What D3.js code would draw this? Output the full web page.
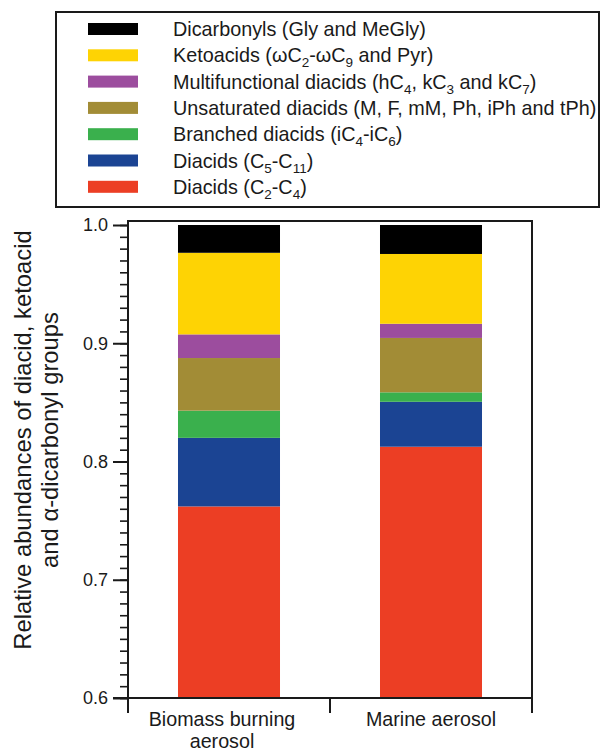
<!DOCTYPE html>
<html>
<head>
<meta charset="utf-8">
<script src="https://cdn.jsdelivr.net/npm/d3@7"></script>
<style>
  body { margin: 0; background: #fff; }
  svg { font-family: "Liberation Sans", Arial, sans-serif; }
</style>
</head>
<body>
<svg id="chart" width="601" height="752"></svg>
<script>
// sites on the x axis
var sites = ["Biomass burning aerosol", "Marine aerosol"];

// groups, bottom of the stack first
var groups = ["c2c4", "c5c11", "branched", "unsat", "multi", "keto", "dicarb"];
var groupColors = ["#ec3e24", "#1b4493", "#3ab04d", "#a28c36", "#9c4d9e", "#fed304", "#000000"];

// relative abundances (same order as groups)
var biomassValues = [0.762, 0.058, 0.023, 0.0445, 0.020, 0.069, 0.0235];
var marineValues = [0.8125, 0.038, 0.008, 0.046, 0.012, 0.059, 0.0245];

var yTicks = [0.6, 0.7, 0.8, 0.9, 1.0];

// legend rows, top row first; each row is a list of [text, is subscript]
var legendRows = [
    { key: "dicarb", parts: [["Dicarbonyls (Gly and MeGly)", 0]] },
    { key: "keto", parts: [["Ketoacids (\u03c9C", 0], ["2", 1], ["-\u03c9C", 0], ["9", 1], [" and Pyr)", 0]] },
    { key: "multi", parts: [["Multifunctional diacids (hC", 0], ["4", 1], [", kC", 0], ["3", 1], [" and kC", 0], ["7", 1], [")", 0]] },
    { key: "unsat", parts: [["Unsaturated diacids (M, F, mM, Ph, iPh and tPh)", 0]] },
    { key: "branched", parts: [["Branched diacids (iC", 0], ["4", 1], ["-iC", 0], ["6", 1], [")", 0]] },
    { key: "c5c11", parts: [["Diacids (C", 0], ["5", 1], ["-C", 0], ["11", 1], [")", 0]] },
    { key: "c2c4", parts: [["Diacids (C", 0], ["2", 1], ["-C", 0], ["4", 1], [")", 0]] }
];

var svg = d3.select("#chart");
var ink = "#1a1a1a";

var rows = sites.map(function (s, i) {
    var vals = i === 0 ? biomassValues : marineValues;
    var r = { site: s };
    groups.forEach(function (g, j) { r[g] = vals[j]; });
    return r;
});
var series = d3.stack().keys(groups)(rows);

var color = d3.scaleOrdinal().domain(groups).range(groupColors);

var x = d3.scaleBand()
    .domain(sites)
    .range([128, 532])
    .paddingInner(0.495)
    .paddingOuter(0.2475);

var y = d3.scaleLinear().domain([0.6, 1.0]).range([698, 225]);

var plotTop = y(1.0) - 4;
var plotBottom = y(0.6);

// bars
svg.append("g")
    .selectAll("g")
    .data(series)
    .enter()
    .append("g")
    .attr("fill", function (d) { return color(d.key); })
    .selectAll("rect")
    .data(function (d) { return d; })
    .enter()
    .append("rect")
    .attr("x", function (d) { return x(d.data.site); })
    .attr("width", x.bandwidth())
    .attr("y", function (d) { return y(Math.min(d[1], 1)); })
    .attr("height", function (d) { return y(Math.max(d[0], 0.6)) - y(Math.min(d[1], 1)); });

// minor y ticks every 0.01
svg.append("g")
    .attr("transform", "translate(128,0)")
    .call(d3.axisLeft(y).tickValues(d3.range(60, 101).map(function (v) { return v / 100; }))
        .tickSize(8).tickFormat(""))
    .call(function (g) {
        g.select(".domain").remove();
        g.selectAll("line").attr("stroke", ink).attr("stroke-width", 1.6);
    });

// major y ticks
svg.append("g")
    .attr("transform", "translate(128,0)")
    .call(d3.axisLeft(y).tickValues(yTicks).tickSize(15).tickPadding(5).tickFormat(d3.format(".1f")))
    .call(function (g) {
        g.select(".domain").remove();
        g.selectAll("line").attr("stroke", ink).attr("stroke-width", 2);
        g.selectAll("text")
            .attr("fill", ink)
            .style("font-size", "18px")
            .style("font-family", "'Liberation Sans', Arial, sans-serif");
    });

// frame: left axis and right side run below the x axis, top closes the box
var frame = svg.append("g").attr("stroke", ink).attr("stroke-width", 2).attr("fill", "none");
frame.append("line").attr("x1", 128).attr("x2", 128).attr("y1", plotTop).attr("y2", plotBottom + 15);
frame.append("line").attr("x1", 532).attr("x2", 532).attr("y1", plotTop).attr("y2", plotBottom + 15);
frame.append("line").attr("x1", 127).attr("x2", 533).attr("y1", plotTop).attr("y2", plotTop);
frame.append("line").attr("x1", 113).attr("x2", 533).attr("y1", plotBottom).attr("y2", plotBottom);

// x ticks at the band edges
var edges = d3.range(sites.length + 1).map(function (i) { return 128 + i * x.step(); });
frame.selectAll(".xt")
    .data(edges)
    .enter()
    .append("line")
    .attr("x1", function (d) { return d; })
    .attr("x2", function (d) { return d; })
    .attr("y1", plotBottom)
    .attr("y2", plotBottom + 15);

// x labels
var xLabels = [["Biomass burning", "aerosol"], ["Marine aerosol"]];
var xLabel = svg.append("g")
    .attr("fill", ink)
    .attr("text-anchor", "middle")
    .style("font-size", "19.7px");
xLabels.forEach(function (lines, i) {
    var cx = x(sites[i]) + x.bandwidth() / 2 + (i === 0 ? -7 : 0);
    lines.forEach(function (t, k) {
        xLabel.append("text").attr("x", cx).attr("y", 726 + k * 22).text(t);
    });
});

// y title
var yTitle = svg.append("text")
    .attr("transform", "translate(0,440) rotate(-90)")
    .attr("text-anchor", "middle")
    .attr("fill", ink)
    .style("font-size", "23.8px");
yTitle.append("tspan").attr("x", 0).attr("y", 31).text("Relative abundances of diacid,  ketoacid");
yTitle.append("tspan").attr("x", 0).attr("y", 58).text("and  \u03b1-dicarbonyl groups");

// legend
var legend = svg.append("g");
legend.append("rect")
    .attr("x", 56).attr("y", 12)
    .attr("width", 543).attr("height", 195)
    .attr("fill", "#fff")
    .attr("stroke", ink)
    .attr("stroke-width", 2);

var item = legend.selectAll(".item")
    .data(legendRows)
    .enter()
    .append("g")
    .attr("transform", function (d, i) { return "translate(0," + (29 + i * 26.3) + ")"; });

item.append("rect")
    .attr("x", 88).attr("y", -6)
    .attr("width", 50).attr("height", 12)
    .attr("fill", function (d) { return color(d.key); });

var label = item.append("text")
    .attr("x", 173).attr("y", 7)
    .attr("fill", ink)
    .style("font-size", "19.8px");
label.selectAll("tspan")
    .data(function (d) { return d.parts; })
    .enter()
    .append("tspan")
    .attr("dy", function (p, i, nodes) {
        var prev = i > 0 ? d3.select(nodes[i - 1]).datum()[1] : 0;
        return (p[1] - prev) * 5;
    })
    .style("font-size", function (p) { return p[1] ? "13.5px" : "19.8px"; })
    .text(function (p) { return p[0]; });
</script>
</body>
</html>
